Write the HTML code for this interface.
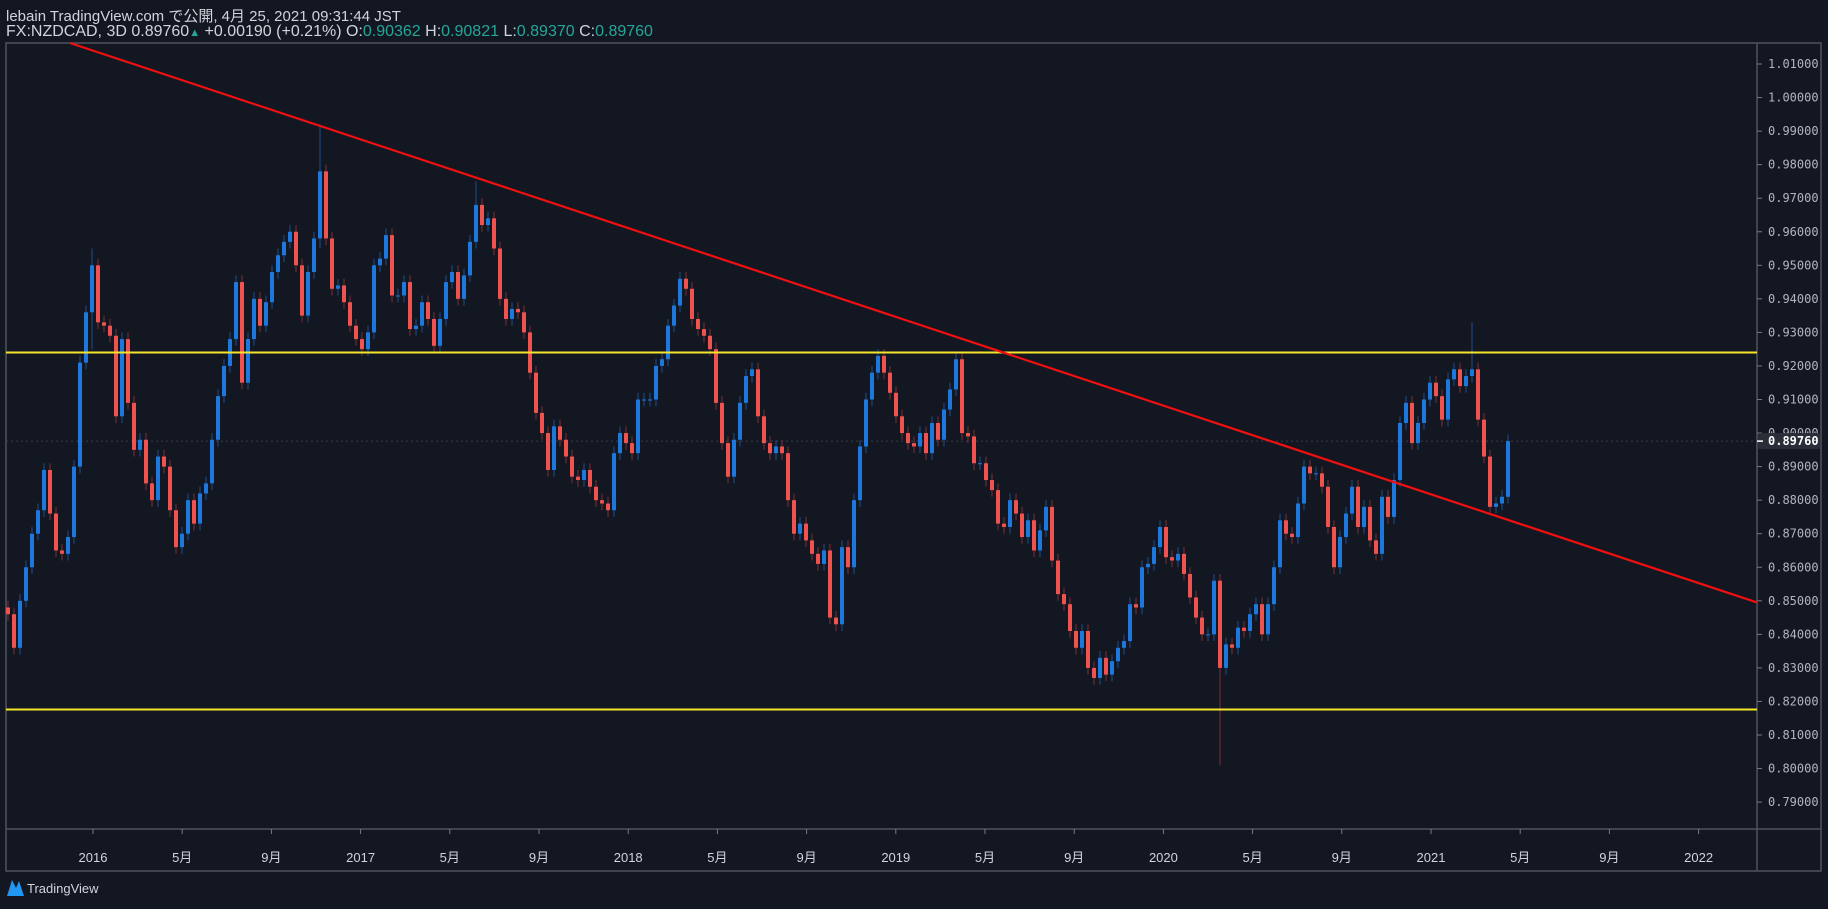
<!DOCTYPE html>
<html><head><meta charset="utf-8">
<style>
html,body{margin:0;padding:0;background:#131722;width:1828px;height:909px;overflow:hidden}
.hdr{position:absolute;left:6px;color:#d1d4dc;font-family:"Liberation Sans","Noto Sans CJK JP",sans-serif;font-size:15px;line-height:17px;white-space:nowrap}
.t{color:#26a69a}
</style></head><body>
<div class="hdr" style="top:8px">lebain TradingView.com で公開, 4月 25, 2021 09:31:44 JST</div>
<div class="hdr" style="top:23px;font-size:16px">FX:NZDCAD, 3D 0.89760<span class="t" style="font-size:11px">▲</span> +0.00190 (+0.21%) O:<span class="t">0.90362</span> H:<span class="t">0.90821</span> L:<span class="t">0.89370</span> C:<span class="t">0.89760</span></div>
<svg id="chart" width="1828" height="909" style="position:absolute;left:0;top:0"></svg>
<script>
const closes=[0.846,0.836,0.850,0.860,0.870,0.877,0.889,0.876,0.865,0.864,0.869,0.890,0.921,0.936,0.950,0.933,0.932,0.929,0.905,0.928,
0.909,0.895,0.898,0.885,0.880,0.893,0.890,0.877,0.866,0.870,0.880,0.873,0.882,0.885,0.898,0.911,0.920,0.928,0.945,0.915,
0.928,0.940,0.932,0.939,0.948,0.953,0.957,0.960,0.950,0.935,0.948,0.958,0.978,0.958,0.943,0.944,0.939,0.932,0.928,0.925,
0.930,0.950,0.952,0.959,0.941,0.941,0.945,0.931,0.932,0.939,0.934,0.926,0.934,0.945,0.948,0.940,0.947,0.957,0.968,0.962,
0.964,0.955,0.940,0.934,0.937,0.936,0.930,0.918,0.906,0.900,0.889,0.902,0.898,0.893,0.887,0.886,0.889,0.884,0.880,0.879,
0.877,0.894,0.900,0.897,0.894,0.910,0.910,0.910,0.920,0.922,0.932,0.938,0.946,0.943,0.934,0.931,0.929,0.925,0.909,0.897,
0.887,0.898,0.909,0.917,0.919,0.905,0.897,0.894,0.896,0.894,0.880,0.870,0.873,0.868,0.864,0.861,0.865,0.845,0.843,0.866,
0.860,0.880,0.896,0.910,0.918,0.923,0.918,0.912,0.905,0.900,0.897,0.896,0.900,0.894,0.903,0.898,0.907,0.913,0.922,0.900,
0.899,0.891,0.891,0.886,0.883,0.873,0.872,0.880,0.876,0.869,0.874,0.865,0.871,0.878,0.862,0.852,0.849,0.841,0.836,0.841,
0.830,0.827,0.833,0.828,0.832,0.836,0.838,0.849,0.848,0.860,0.861,0.866,0.872,0.863,0.862,0.864,0.858,0.851,0.845,0.840,
0.840,0.856,0.830,0.837,0.836,0.842,0.841,0.846,0.849,0.840,0.849,0.860,0.874,0.870,0.869,0.879,0.890,0.888,0.888,0.884,
0.872,0.860,0.869,0.876,0.884,0.872,0.878,0.868,0.864,0.881,0.875,0.886,0.903,0.909,0.897,0.903,0.910,0.915,0.911,0.904,
0.916,0.919,0.914,0.917,0.919,0.904,0.893,0.878,0.879,0.881,0.8976];
const firstOpen=0.848;
const spikeIdx=[52,202,244,14,78];
const spikeHigh=[0.992,0.845,0.933,0.955,0.975];
const spikeLow=[0.955,0.801,0.915,0.925,0.955];
const priceTicks=[1.01,1.00,0.99,0.98,0.97,0.96,0.95,0.94,0.93,0.92,0.91,0.90,0.89,0.88,0.87,0.86,0.85,0.84,0.83,0.82,0.81,0.80,0.79];
const timeLabels=["2016","5月","9月","2017","5月","9月","2018","5月","9月","2019","5月","9月","2020","5月","9月","2021","5月","9月","2022"];
const hLines=[0.9240,0.8176];
const trendPrices=[1.0245,0.8495];
const lastPrice=0.8976;

const svg=document.getElementById('chart');
const NS='http://www.w3.org/2000/svg';
const L=6,T=43,R=1757,B=829;
const yOf=p=>64+(1.01-p)*3355;
const xOf=i=>6+6*i;
const tx=i=>93+i*89.2;
function mk(tag,attrs){const e=document.createElementNS(NS,tag);for(const k in attrs)e.setAttribute(k,attrs[k]);svg.appendChild(e);return e;}
let f=mk('rect',{x:L,y:T,width:1815,height:828,fill:'none',stroke:'#50535e','stroke-width':1.5});


let vl=mk('line',{x1:R,y1:T,x2:R,y2:871,stroke:'#50535e','stroke-width':1.5});


let hl=mk('line',{x1:L,y1:B,x2:1821,y2:B,stroke:'#50535e','stroke-width':1.5});


priceTicks.forEach(p=>{
  const y=yOf(p);
  const tk=mk('line',{x1:R,y1:y,x2:R+5,y2:y,stroke:'#787b86'});
  
  
  const t=mk('text',{x:1768,y:y+4,fill:'#b2b5be','font-size':12,'font-family':'"DejaVu Sans Mono",monospace'});
  t.textContent=p.toFixed(5);
  
  
});
timeLabels.forEach((s,i)=>{
  const x=tx(i);
  const tk=mk('line',{x1:x,y1:B,x2:x,y2:B+5,stroke:'#787b86'});
  
  
  const t=mk('text',{x:x,y:862,fill:'#d1d4dc','font-size':13,'text-anchor':'middle','font-family':'"Liberation Sans","Noto Sans CJK JP",sans-serif'});
  t.textContent=s;
  
  
});
let dl=mk('line',{x1:L,y1:yOf(lastPrice),x2:R,y2:yOf(lastPrice),stroke:'#3a3e4a','stroke-dasharray':'2 3'});


closes.forEach((c,i)=>{
  const o=i===0?firstOpen:closes[i-1];
  const up=c>=o;
  let hi=Math.max(o,c)+0.002, lo=Math.min(o,c)-0.002;
  const k=spikeIdx.indexOf(i);
  if(k>=0){hi=Math.max(hi,spikeHigh[k]);lo=Math.min(lo,spikeLow[k]);}
  const x=xOf(i);
  const w=mk('line',{x1:x+2,y1:yOf(hi),x2:x+2,y2:yOf(lo),stroke:up?'#1c4f8c':'#7c2f35','stroke-width':1});
  
  
  const top=yOf(Math.max(o,c)),bot=yOf(Math.min(o,c));
  const b=mk('rect',{x:x,y:top,width:4,height:Math.max(1,bot-top),fill:up?'#1e78dc':'#ef5350'});
  
  
});
hLines.forEach(p=>{
  const l=mk('line',{x1:L,y1:yOf(p),x2:R,y2:yOf(p),stroke:'#f5e52a','stroke-width':2});
  
  
});
let tl=mk('line',{x1:70,y1:T,x2:R,y2:yOf(trendPrices[1]),stroke:'#f01010','stroke-width':2.2});


let lb=mk('rect',{x:R+1,y:yOf(lastPrice)-8,width:62,height:16,fill:'#2a2e39',rx:2});


let ltk=mk('line',{x1:R,y1:yOf(lastPrice),x2:R+6,y2:yOf(lastPrice),stroke:'#ffffff','stroke-width':1.5});


let lt=mk('text',{x:1768,y:yOf(lastPrice)+4,fill:'#ffffff','font-size':12,'font-weight':'bold','font-family':'"DejaVu Sans Mono",monospace'});
lt.textContent=lastPrice.toFixed(5);


let lg=mk('path',{d:'M7 896 L12 880 L16 888 L19 881 L24 896 Z',fill:'#2196f3'});


let lgt=mk('text',{x:27,y:893,fill:'#d1d4dc','font-size':13,'font-family':'"Liberation Sans",sans-serif'});
lgt.textContent='TradingView';


</script>
</body></html>
